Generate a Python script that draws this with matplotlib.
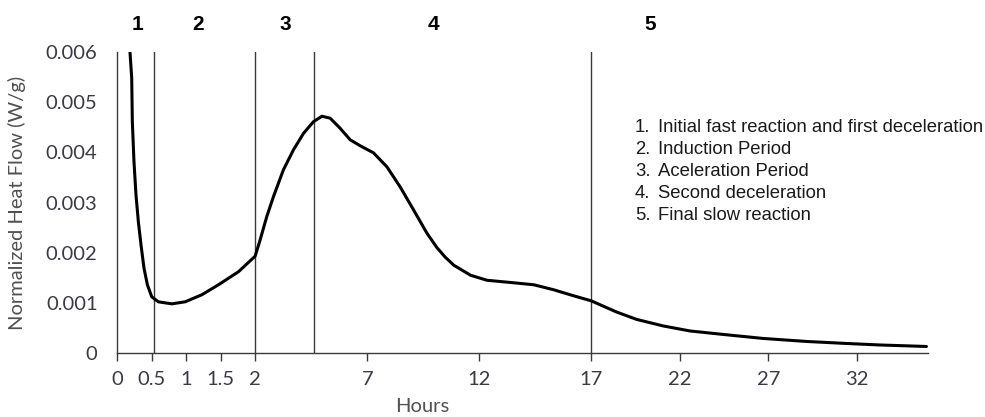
import numpy as np
import matplotlib
matplotlib.use("Agg")
import matplotlib.pyplot as plt

# ---- data ----
hours = [0.188, 0.213, 0.222, 0.246, 0.275, 0.309, 0.348, 0.391, 0.440, 0.503,
         0.599, 0.792, 0.986, 1.227, 1.469, 1.759, 2.0,
         2.22, 2.52, 2.82, 3.26, 3.71, 4.16, 4.60, 4.98, 5.35, 5.79, 6.24, 6.69,
         7.28, 7.88, 8.47, 9.07, 9.66, 10.11, 10.48, 10.86, 11.61, 12.34, 13.53,
         14.43, 15.32, 16.21, 16.99, 18.4, 19.55, 21.05, 22.56, 24.45, 26.71,
         29.17, 31.43, 33.3, 35.94]
heat_flow = [0.0060, 0.00548, 0.00461, 0.00381, 0.00315, 0.00262, 0.00215, 0.00169,
             0.00136, 0.00112, 0.00102, 0.00098, 0.00102, 0.00116, 0.00136, 0.00162,
             0.00193,
             0.00225, 0.00272, 0.00312, 0.00365, 0.00405, 0.00438, 0.00461, 0.00472,
             0.00468, 0.00448, 0.00425, 0.00413, 0.00399, 0.00371, 0.00331, 0.00285,
             0.00239, 0.00210, 0.00191, 0.00175, 0.00155, 0.00145, 0.00140, 0.00136,
             0.00126, 0.00114, 0.00104, 0.00082, 0.00067, 0.00054, 0.00044, 0.00037,
             0.00029, 0.00023, 0.00019, 0.00016, 0.00013]
stage_bounds = [0.536, 2.0, 4.63, 17.0]
stage_labels = ["1", "2", "3", "4", "5"]
stage_label_x = [0.29, 1.17, 3.34, 9.95, 20.3]
legend_items = ["Initial fast reaction and first deceleration", "Induction Period",
                "Aceleration Period", "Second deceleration", "Final slow reaction"]
xticks = [0, 0.5, 1, 1.5, 2, 7, 12, 17, 22, 27, 32]
xtick_labels = ["0", "0.5", "1", "1.5", "2", "7", "12", "17", "22", "27", "32"]
yticks = [0, 0.001, 0.002, 0.003, 0.004, 0.005, 0.006]
ytick_labels = ["0", "0.001", "0.002", "0.003", "0.004", "0.005", "0.006"]

# piecewise axis scale (hours -> pixels)
_bx = [0.0, 2.0, 17.0, 60.0]
_bp = [0.0, 138.0, 474.0, 474.0 + 43.0 * 17.67]


def fwd(x):
    x = np.asarray(x, dtype=float)
    return np.interp(x, _bx, _bp, left=np.nan)


def inv(p):
    p = np.asarray(p, dtype=float)
    return np.interp(p, _bp, _bx)


tick_color = "#3a3a44"
fig = plt.figure(figsize=(9.85, 4.17), dpi=100)
ax = fig.add_axes([117 / 985, 64 / 417, 811 / 985, 301 / 417])
ax.set_xscale("function", functions=(fwd, inv))
ax.set_xlim(0, 36.03)
ax.set_ylim(0, 0.006)

for b in stage_bounds:
    ax.plot([b, b], [0, 0.006], color="#3a3a3a", lw=1.0, zorder=2)

ax.plot(hours, heat_flow, color="black", lw=2.2, zorder=3, clip_on=True,
        solid_joinstyle="round", solid_capstyle="round")

for s in ["top", "right"]:
    ax.spines[s].set_visible(False)
for s in ["left", "bottom"]:
    ax.spines[s].set_color("#3a3a3a")
    ax.spines[s].set_linewidth(1.0)

tick_font = dict(family=["Lato", "DejaVu Sans"], size=14.5, color=tick_color)
ax.set_xticks(xticks)
ax.set_xticklabels(xtick_labels, **tick_font)
ax.set_yticks(yticks)
ax.set_yticklabels(ytick_labels, **tick_font)
ax.tick_params(axis="x", direction="out", length=6, width=1, color="#3a3a3a", pad=7)
ax.tick_params(axis="y", length=0, pad=14)
ax.minorticks_off()

ax.set_ylabel("Normalized Heat Flow (W/g)", family=["Lato", "DejaVu Sans"],
              size=14.5, color="#505050")
ax.yaxis.set_label_coords(-0.112, 0.5)
ax.set_xlabel("Hours", family=["Lato", "DejaVu Sans"], size=14.5, color="#505050")
ax.xaxis.set_label_coords(0.377, -0.148)

for lbl, xv in zip(stage_labels, stage_label_x):
    ax.text(xv, 1.09, lbl, transform=ax.get_xaxis_transform(), ha="center",
            va="center", family=["Liberation Sans", "DejaVu Sans"],
            fontweight="bold", size=15, color="black", clip_on=False)

leg_y0 = 128
for i, item in enumerate(legend_items):
    y = 1 - (leg_y0 + 22 * i) / 417
    fig.text(635 / 985, y, f"{i + 1}.", ha="left", va="center",
             family=["Liberation Sans", "DejaVu Sans"], size=13.3, color="#1a1a1a")
    fig.text(658 / 985, y, item, ha="left", va="center",
             family=["Liberation Sans", "DejaVu Sans"], size=13.3, color="#1a1a1a")

fig.savefig("out.png", dpi=100)
